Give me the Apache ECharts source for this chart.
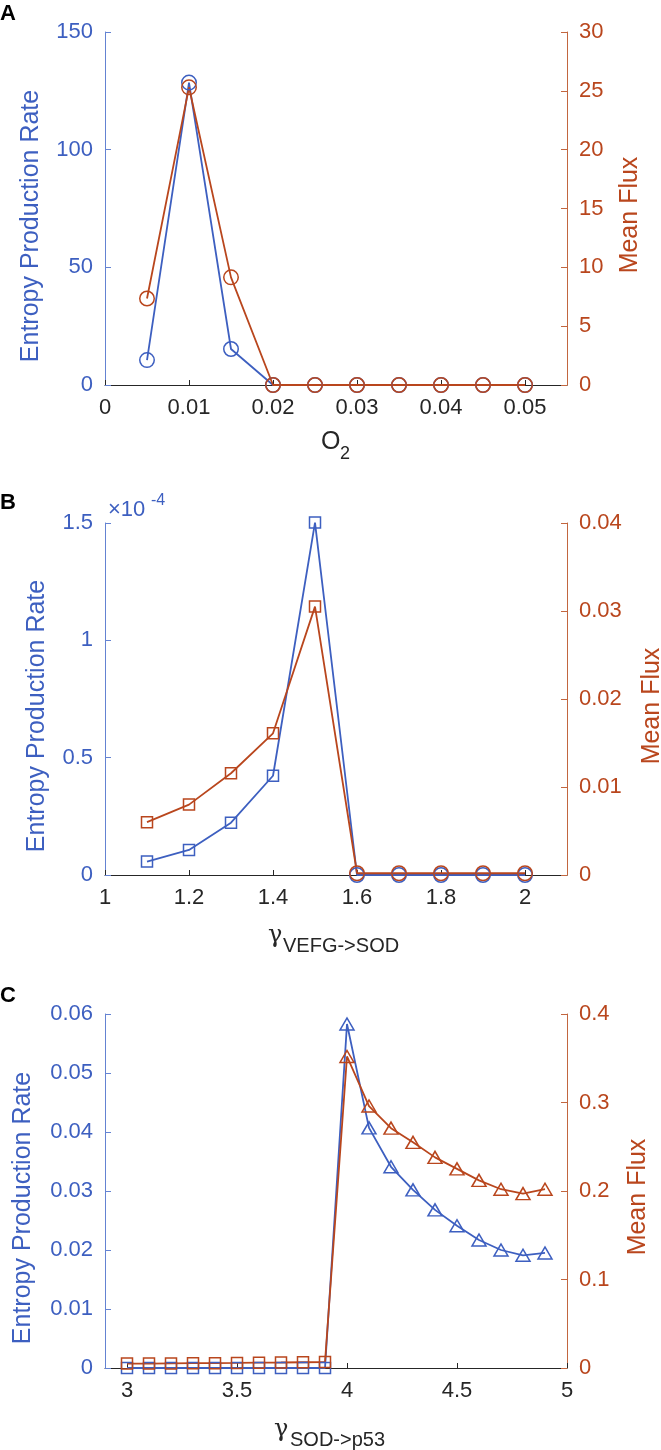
<!DOCTYPE html>
<html><head><meta charset="utf-8">
<script src="https://cdn.jsdelivr.net/npm/echarts@6/dist/echarts.min.js"></script>
<style>html,body{margin:0;padding:0;background:#fff}#c{width:661px;height:1450px}</style>
</head><body><div id="c"></div>
<script>
// ---- Panel A : O2 ----
const A_x = [0.005, 0.01, 0.015, 0.02, 0.025, 0.03, 0.035, 0.04, 0.045, 0.05];
const A_epr = [10.6, 128.5, 15.3, 0, 0, 0, 0, 0, 0, 0];
const A_flux = [7.35, 25.3, 9.15, 0, 0, 0, 0, 0, 0, 0];
const A_xTicks = [0, 0.01, 0.02, 0.03, 0.04, 0.05];

// ---- Panel B : gamma VEFG->SOD ----
const B_x = [1.1, 1.2, 1.3, 1.4, 1.5, 1.6, 1.7, 1.8, 1.9, 2.0];
const B_epr = [0.057e-4, 0.107e-4, 0.223e-4, 0.423e-4, 1.502e-4, 0, 0, 0, 0, 0];
const B_flux = [0.0060, 0.0080, 0.01156, 0.0161, 0.0305, 0.0002, 0.0002, 0.0002, 0.0002, 0.0002];
const B_xTicks = [1, 1.2, 1.4, 1.6, 1.8, 2];

// ---- Panel C : gamma SOD->p53 ----
const C_x = [3.0, 3.1, 3.2, 3.3, 3.4, 3.5, 3.6, 3.7, 3.8, 3.9, 4.0, 4.1, 4.2, 4.3, 4.4, 4.5, 4.6, 4.7, 4.8, 4.9];
const C_epr = [0, 0, 0, 0, 0, 0, 0, 0, 0, 0, 0.0583, 0.0407, 0.0341, 0.0302, 0.0268, 0.0241, 0.0217, 0.0200, 0.0191, 0.0195];
const C_flux = [0.0050, 0.0050, 0.0052, 0.0054, 0.0055, 0.0057, 0.0060, 0.0062, 0.0065, 0.0068, 0.352, 0.296, 0.271, 0.255, 0.238, 0.225, 0.212, 0.202, 0.197, 0.202];
const C_xTicks = [3, 3.5, 4, 4.5, 5];

const FONT = '"Liberation Sans", Arial, Helvetica, sans-serif';
const GREEK = '"DejaVu Serif", "Liberation Serif", serif';
const BLUE = '#3D5FC0', RED = '#B9461D', BLUE_AX = '#6483D2', RED_AX = '#C2663F', DARK = '#262626';

function pairs(xs, ys) { return xs.map((x, i) => [x, ys[i]]); }

function mkX(gi, min, max, ticks) {
  return {
    type: 'value', gridIndex: gi, min: min, max: max,
    axisLine: { show: true, onZero: false, lineStyle: { color: DARK, width: 1 } },
    axisTick: { show: true, inside: true, length: 5, customValues: ticks, lineStyle: { color: DARK } },
    axisLabel: { customValues: ticks, fontSize: 22, fontFamily: FONT, color: DARK, margin: 12 },
    splitLine: { show: false }
  };
}
function mkY(gi, pos, min, max, interval, color, axColor, fmt) {
  const o = {
    type: 'value', gridIndex: gi, position: pos, min: min, max: max, interval: interval,
    axisLine: { show: true, onZero: false, lineStyle: { color: axColor, width: 1 } },
    axisTick: { show: true, inside: true, length: 6, lineStyle: { color: axColor } },
    axisLabel: { fontSize: 22, fontFamily: FONT, color: color, margin: 12 },
    splitLine: { show: false }
  };
  if (fmt) o.axisLabel.formatter = fmt;
  return o;
}
function mkLine(xi, yi, data, color, symbol, size) {
  return {
    type: 'line', xAxisIndex: xi, yAxisIndex: yi, data: data,
    symbol: symbol, symbolSize: size, showAllSymbol: true, clip: false,
    lineStyle: { color: color, width: 1.8 },
    itemStyle: { color: 'rgba(255,255,255,0)', borderColor: color, borderWidth: 1.5 },
    emphasis: { disabled: true }, silent: true
  };
}

const bSym = v => (v[0] < 1.55 ? 'rect' : 'circle');
const bSize = v => (v[0] < 1.55 ? 11 : 14.5);
const cSym = v => (v[0] < 3.95 ? 'rect' : 'triangle');
const cSize = v => (v[0] < 3.95 ? 11 : [14, 12]);

function rtxt(x, y, text, size, color) {
  return { type: 'text', x: x, y: y, rotation: Math.PI / 2, silent: true,
    style: { text: text, fontSize: size, fontFamily: FONT, fill: color, align: 'center', verticalAlign: 'middle' } };
}
function ltxt(x, y, text, size, color, family, weight) {
  return { type: 'text', x: x, y: y, silent: true,
    style: { text: text, fontSize: size, fontFamily: family || FONT, fontWeight: weight || 'normal', fill: color, align: 'left', verticalAlign: 'middle' } };
}

const chart = echarts.init(document.getElementById('c'), null, { renderer: 'canvas' });
chart.setOption({
  animation: false,
  backgroundColor: '#ffffff',
  grid: [
    { left: 105, top: 32, width: 462, height: 353 },
    { left: 105, top: 523, width: 462, height: 352 },
    { left: 105, top: 1014, width: 462, height: 354 }
  ],
  xAxis: [
    mkX(0, 0, 0.055, A_xTicks),
    mkX(1, 1, 2.1, B_xTicks),
    mkX(2, 2.9, 5, C_xTicks)
  ],
  yAxis: [
    mkY(0, 'left', 0, 150, 50, BLUE, BLUE_AX),
    mkY(0, 'right', 0, 30, 5, RED, RED_AX),
    mkY(1, 'left', 0, 1.5e-4, 0.5e-4, BLUE, BLUE_AX, v => String(Math.round(v * 1e6) / 100)),
    mkY(1, 'right', 0, 0.04, 0.01, RED, RED_AX),
    mkY(2, 'left', 0, 0.06, 0.01, BLUE, BLUE_AX),
    mkY(2, 'right', 0, 0.4, 0.1, RED, RED_AX)
  ],
  series: [
    mkLine(0, 0, pairs(A_x, A_epr), BLUE, 'circle', 14.5),
    mkLine(0, 1, pairs(A_x, A_flux), RED, 'circle', 14.5),
    mkLine(1, 2, pairs(B_x, B_epr), BLUE, bSym, bSize),
    mkLine(1, 3, pairs(B_x, B_flux), RED, bSym, bSize),
    mkLine(2, 4, pairs(C_x, C_epr), BLUE, cSym, cSize),
    mkLine(2, 5, pairs(C_x, C_flux), RED, cSym, cSize)
  ],
  graphic: [
    ltxt(0, 14, 'A', 22, '#000', FONT, 'bold'),
    ltxt(0, 503, 'B', 22, '#000', FONT, 'bold'),
    ltxt(0, 996, 'C', 22, '#000', FONT, 'bold'),
    rtxt(31, 226, 'Entropy Production Rate', 25, BLUE),
    rtxt(37, 716, 'Entropy Production Rate', 25, BLUE),
    rtxt(23, 1208, 'Entropy Production Rate', 25, BLUE),
    rtxt(630, 215, 'Mean Flux', 25, RED),
    rtxt(652, 706, 'Mean Flux', 25, RED),
    rtxt(638, 1197, 'Mean Flux', 25, RED),
    ltxt(321, 442, 'O', 25, DARK),
    ltxt(340, 454, '2', 18, DARK),
    ltxt(268, 936, 'γ', 24, DARK, GREEK),
    ltxt(283, 946, 'VEFG->SOD', 20, DARK),
    ltxt(274, 1430, 'γ', 24, DARK, GREEK),
    ltxt(290, 1440, 'SOD->p53', 20, DARK),
    ltxt(108, 510, '×10', 22, BLUE),
    ltxt(151, 501, '-4', 16, BLUE)
  ]
});
</script>
</body></html>
